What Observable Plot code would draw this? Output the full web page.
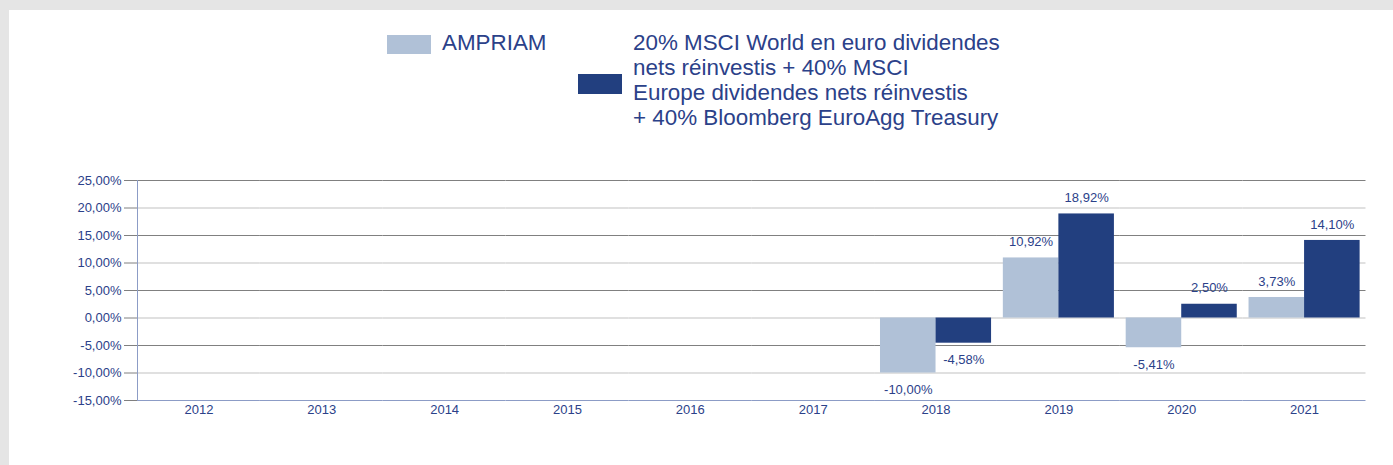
<!DOCTYPE html>
<html>
<head>
<meta charset="utf-8">
<script src="https://cdn.jsdelivr.net/npm/d3@7"></script>
<script src="https://cdn.jsdelivr.net/npm/@observablehq/plot@0.6"></script>
<style>
  html, body { margin: 0; padding: 0; }
  body { width: 1393px; height: 465px; background: #e5e5e5; position: relative; overflow: hidden;
         font-family: "Liberation Sans", Arial, sans-serif; }
  #panel { position: absolute; left: 9px; top: 10px; right: 0; bottom: 0; background: #ffffff; }
  .sw { position: absolute; width: 44px; height: 19px; }
  .lg { position: absolute; font-size: 22.4px; line-height: 24.8px; color: #2b4189; white-space: nowrap; }
  #chart { position: absolute; left: 0; top: 170px; }
</style>
</head>
<body>
<div id="panel"></div>
<div id="legend"></div>
<div id="chart"></div>
<script>
// ---- data ----
const years = ["2012", "2013", "2014", "2015", "2016", "2017", "2018", "2019", "2020", "2021"];
const ampriam   = [null, null, null, null, null, null, -10.00, 10.92, -5.41, 3.73];
const benchmark = [null, null, null, null, null, null, -4.58, 18.92, 2.50, 14.10];
const seriesNames = [
  "AMPRIAM",
  "20% MSCI World en euro dividendes nets réinvestis + 40% MSCI Europe dividendes nets réinvestis + 40% Bloomberg EuroAgg Treasury"
];
const legendLines = [
  ["AMPRIAM"],
  ["20% MSCI World en euro dividendes", "nets réinvestis + 40% MSCI", "Europe dividendes nets réinvestis", "+ 40% Bloomberg EuroAgg Treasury"]
];
const yTicks = [25, 20, 15, 10, 5, 0, -5, -10, -15];
const darkGrid = [25, 15, 5, -5];
const lightGrid = [20, 10, 0, -10];
const yDomain = [-15, 25];

// ---- styles ----
const colors = ["#b0c1d7", "#223f7f"];
const textColor = "#2b4189";
const axisBlue = "#8c9cc6";
const fmt = v => v.toFixed(2).replace(".", ",") + "%";

// ---- legend ----
const legend = document.getElementById("legend");
const swPos = [{left: 387, top: 35}, {left: 578, top: 74}];
const txtPos = [{left: 442, top: 31.4}, {left: 633, top: 31.4}];
seriesNames.forEach((s, i) => {
  const sw = document.createElement("div");
  sw.className = "sw";
  sw.style.left = swPos[i].left + "px";
  sw.style.top = swPos[i].top + "px";
  sw.style.height = (i === 0 ? 19 : 20) + "px";
  sw.style.background = colors[i];
  legend.appendChild(sw);
  const t = document.createElement("div");
  t.className = "lg";
  t.style.left = txtPos[i].left + "px";
  t.style.top = txtPos[i].top + "px";
  t.innerHTML = legendLines[i].join("<br>");
  legend.appendChild(t);
});

// ---- table (every year kept so every facet exists) ----
const rows = years.flatMap((y, i) => [
  {year: y, series: seriesNames[0], value: ampriam[i]},
  {year: y, series: seriesNames[1], value: benchmark[i]}
]);
const pos = rows.filter(d => d.value != null && d.value >= 0);
const neg = rows.filter(d => d.value != null && d.value < 0);

const chart = Plot.plot({
  width: 1393,
  height: 265,
  marginTop: 10,
  marginBottom: 35,
  marginLeft: 137,
  marginRight: 27.5,
  style: {fontFamily: "'Liberation Sans', Arial, sans-serif", fontSize: "13px", color: textColor, background: "transparent", overflow: "visible"},
  fx: {domain: years, padding: 0, round: false, label: null},
  x: {domain: seriesNames, paddingInner: 0, paddingOuter: 0.106, round: false, axis: null},
  y: {domain: yDomain, axis: null},
  color: {domain: seriesNames, range: colors},
  marks: [
    Plot.ruleY(lightGrid, {stroke: "#d6d6d6", strokeWidth: 1.5}),
    Plot.ruleY(darkGrid, {stroke: "#808080", strokeWidth: 1}),
    Plot.ruleY([-15], {stroke: axisBlue, strokeWidth: 1}),
    Plot.frame({anchor: "left", facetAnchor: "left", stroke: axisBlue}),
    Plot.axisY({
      ticks: yTicks, tickSize: 13, tickPadding: 3, tickFormat: fmt, label: null,
      stroke: "#808080", fill: textColor, fontSize: 13
    }),
    Plot.axisFx({anchor: "bottom", tickSize: 0, tickPadding: 4, label: null, fill: textColor, fontSize: 13}),
    Plot.barY(rows, {fx: "year", x: "series", y: "value", fill: "series"}),
    Plot.text(pos, {fx: "year", x: "series", y: "value", text: d => fmt(d.value), dy: -16, fill: textColor, fontSize: 13}),
    Plot.text(neg, {fx: "year", x: "series", y: "value", text: d => fmt(d.value), dy: 17, fill: textColor, fontSize: 13})
  ]
});
document.getElementById("chart").appendChild(chart);
</script>
</body>
</html>
